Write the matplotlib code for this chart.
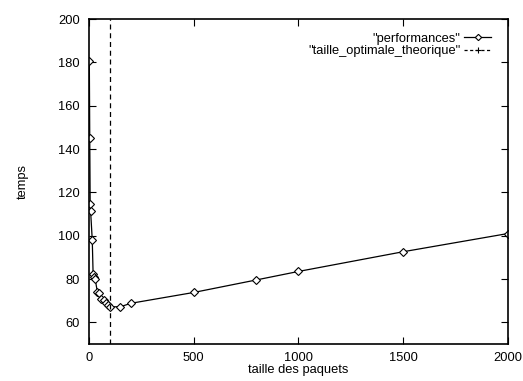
import matplotlib
matplotlib.use('Agg')
import matplotlib.pyplot as plt
from matplotlib.lines import Line2D

# packet size vs measured time
taille = [2, 4, 6, 8, 16, 20, 24, 30, 40, 50, 60, 70, 80, 90, 100,
          150, 200, 500, 800, 1000, 1500, 2000]
temps = [180.5, 145.0, 114.5, 111.5, 98.0, 82.5, 81.0, 80.0, 74.2, 73.4,
         71.0, 70.2, 69.0, 68.0, 67.2, 67.2, 68.8, 73.8, 79.6, 83.5,
         92.6, 101.0]

# theoretical optimum packet size
taille_optimale = 100

xticks = [0, 500, 1000, 1500, 2000]
yticks = [60, 80, 100, 120, 140, 160, 180, 200]


def main():
    plt.rcParams['font.family'] = ['Liberation Sans', 'DejaVu Sans']
    plt.rcParams['font.size'] = 9.3

    fig = plt.figure(figsize=(5.23, 3.81), dpi=100)
    ax = fig.add_axes([0.170, 0.097, 0.801, 0.853])

    ax.plot(taille, temps, color='black', lw=0.9, marker='D', ms=4.2,
            mfc='white', mec='black', mew=0.8)
    ax.axvline(taille_optimale, color='black', lw=0.9, ls=(0, (4, 3)))

    ax.set_xlim(0, 2000)
    ax.set_ylim(50, 200)
    ax.set_xticks(xticks)
    ax.set_yticks(yticks)
    ax.tick_params(direction='in', length=5, width=0.8, top=True, right=True)
    ax.tick_params(axis='x', pad=6)
    ax.tick_params(axis='y', pad=6.5)
    for s in ax.spines.values():
        s.set_linewidth(1.2)

    ax.set_xlabel('taille des paquets', labelpad=0)
    ax.set_ylabel('temps', labelpad=21)

    handles = [
        Line2D([], [], color='black', lw=0.9, marker='D', ms=3.2,
               mfc='white', mec='black', mew=0.8),
        Line2D([], [], color='black', lw=0.9, ls=(0, (2.5, 2)), marker='+',
               ms=4.5, mew=0.8),
    ]
    ax.legend(handles, ['"performances"', '"taille_optimale_theorique"'],
              loc='upper right', bbox_to_anchor=(0.982, 0.985),
              frameon=False, markerfirst=False, numpoints=1,
              handlelength=2.1, handletextpad=0.3, labelspacing=0.0,
              borderpad=0.2)

    fig.savefig('out.png', dpi=100)


if __name__ == '__main__':
    main()
